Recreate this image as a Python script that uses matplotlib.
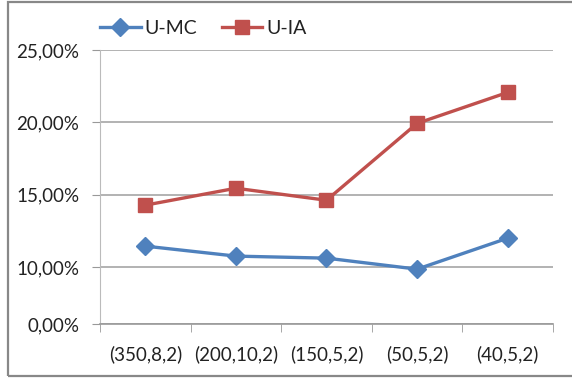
import matplotlib.pyplot as plt
from matplotlib.patches import Rectangle
from matplotlib.ticker import FixedLocator

# parameter sets on the x axis and error rates for both methods
configs = ['(350,8,2)', '(200,10,2)', '(150,5,2)', '(50,5,2)', '(40,5,2)']
u_mc = [0.1145, 0.1076, 0.1062, 0.0986, 0.1200]
u_ia = [0.1428, 0.1545, 0.1462, 0.1993, 0.2207]

y_ticks = [0.0607, 0.10, 0.15, 0.20, 0.25]
y_labels = ['0,00%', '10,00%', '15,00%', '20,00%', '25,00%']

plt.rcParams['font.family'] = ['Lato', 'DejaVu Sans']

fig = plt.figure(figsize=(5.72, 3.79), dpi=100)
ax = fig.add_axes([0.1748, 0.1451, 0.792, 0.7230])

x = list(range(len(configs)))
ax.plot(x, u_mc, color='#4F81BD', lw=2.4, marker='D', markersize=9.5, label='U-MC')
ax.plot(x, u_ia, color='#C0504D', lw=2.4, marker='s', markersize=10.5, label='U-IA')

ax.set_xlim(-0.5, len(configs) - 0.5)
ax.set_ylim(y_ticks[0], y_ticks[-1])
ax.set_yticks(y_ticks)
ax.set_yticklabels(y_labels)
ax.set_xticks(x)
ax.set_xticklabels(configs)
ax.xaxis.set_minor_locator(FixedLocator([i - 0.5 for i in range(len(configs) + 1)]))
ax.tick_params(axis='x', which='major', length=0, pad=15, labelsize=13.5, colors='#222222')
ax.tick_params(axis='x', which='minor', length=6, color='#999999')
ax.tick_params(axis='y', length=6, color='#999999', pad=9, labelsize=13.5, labelcolor='#222222')

ax.grid(axis='y', color='#A6A6A6', lw=1.2)
ax.set_axisbelow(True)
for s in ['top', 'right']:
    ax.spines[s].set_visible(False)
ax.spines['left'].set_color('#BBBBBB')
ax.spines['bottom'].set_color('#999999')
ax.spines['bottom'].set_linewidth(1.2)

leg = fig.legend(loc='center left', bbox_to_anchor=(100 / 572, 1 - 28 / 379), ncol=2, frameon=False,
                 fontsize=14, handlelength=2.1, columnspacing=1.25, handletextpad=0.2,
                 borderpad=0, borderaxespad=0)
for t in leg.get_texts():
    t.set_color('#222222')

# outer chart frame
fig.patches.append(Rectangle((0.014, 0.008), 1.2, 0.988, transform=fig.transFigure,
                             fill=False, edgecolor='#888888', lw=1.6))

fig.savefig('out.png', dpi=100)
